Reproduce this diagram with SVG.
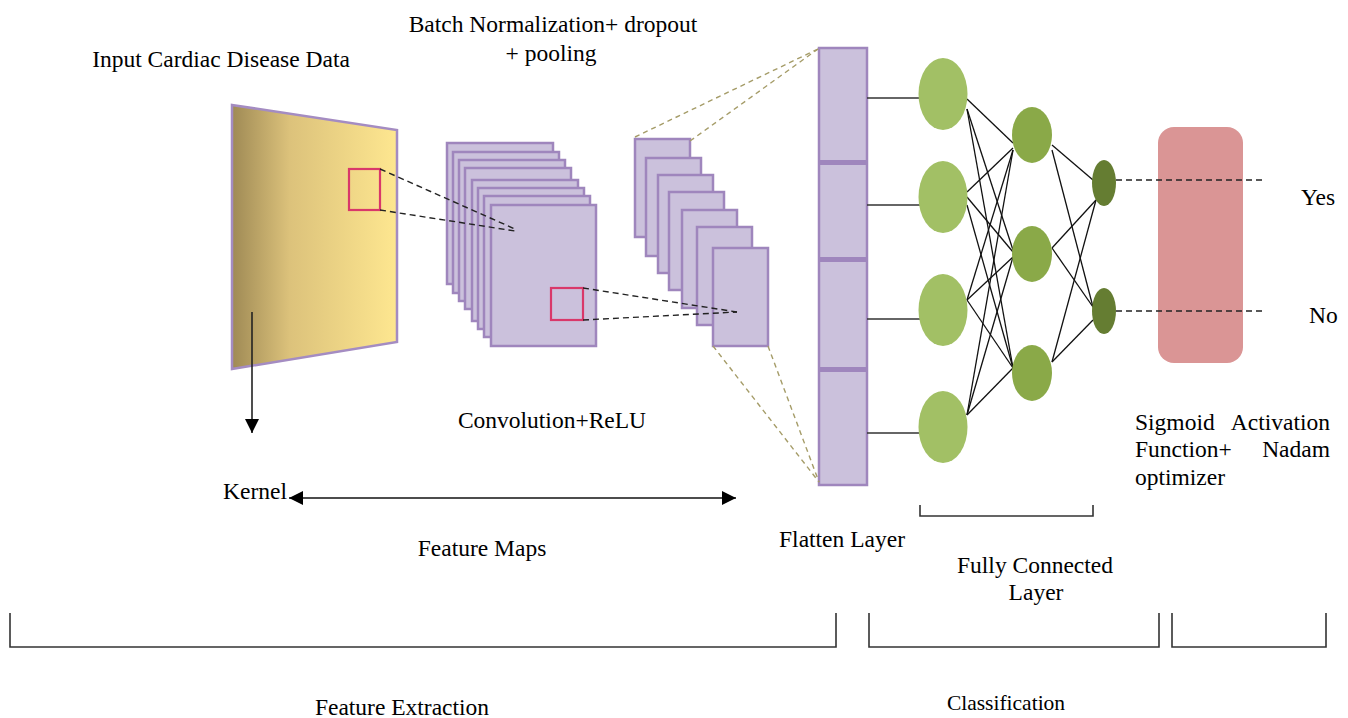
<svg xmlns="http://www.w3.org/2000/svg" width="1348" height="718" viewBox="0 0 1348 718">
<defs>
<linearGradient id="inGrad" x1="0" y1="0" x2="1" y2="0">
<stop offset="0" stop-color="#9f8a55"/>
<stop offset="0.35" stop-color="#dcc27b"/>
<stop offset="1" stop-color="#fee790"/>
</linearGradient>
<marker id="ah" viewBox="0 0 10 10" refX="10" refY="5" markerWidth="14" markerHeight="14" markerUnits="userSpaceOnUse" orient="auto-start-reverse">
<path d="M0,0 L10,5 L0,10 z" fill="#000"/>
</marker>
</defs>
<style>
text{font-family:"Liberation Serif","Times New Roman",serif;font-size:23.5px;fill:#000}
.fm{fill:#cbc1dc;stroke:#9f86bd;stroke-width:2.5}
.kb{fill:none;stroke:#d9386a;stroke-width:2.2}
.dk{stroke:#222;stroke-width:1.4;stroke-dasharray:6,4;fill:none}
.ol{stroke:#a59c68;stroke-width:1.4;stroke-dasharray:5,4;fill:none}
.cn{stroke:#111;stroke-width:1.3;fill:none}
.br{stroke:#333;stroke-width:1.6;fill:none}
.l1{fill:#a2c065}
.l2{fill:#8aa948}
.l3{fill:#657d32}
</style>

<g id="input">
<polygon points="232,105 397,130 397,342 232,369" fill="url(#inGrad)" stroke="#a48cc2" stroke-width="2.5"/>
<rect class="kb" x="349" y="169" width="31" height="41"/>
<text x="221" y="67" text-anchor="middle">Input Cardiac Disease Data</text>
</g>

<g id="conv">
<rect class="fm" x="447" y="143" width="106" height="141"/>
<rect class="fm" x="453" y="152" width="106" height="141"/>
<rect class="fm" x="459" y="160" width="106" height="141"/>
<rect class="fm" x="465" y="168" width="106" height="141"/>
<rect class="fm" x="472" y="180" width="106" height="141"/>
<rect class="fm" x="478" y="188" width="106" height="141"/>
<rect class="fm" x="484" y="196" width="106" height="141"/>
<rect class="fm" x="491" y="205" width="105" height="141"/>
<rect class="kb" x="551" y="288" width="32" height="32"/>
<text x="552" y="428" text-anchor="middle">Convolution+ReLU</text>
</g>

<g id="pool">
<rect class="fm" x="635" y="139" width="55" height="98"/>
<rect class="fm" x="646" y="158" width="55" height="98"/>
<rect class="fm" x="658" y="175" width="55" height="98"/>
<rect class="fm" x="669" y="192" width="55" height="98"/>
<rect class="fm" x="682" y="210" width="55" height="98"/>
<rect class="fm" x="697" y="227" width="55" height="98"/>
<rect class="fm" x="713" y="248" width="55" height="98"/>
<text x="553" y="32" text-anchor="middle">Batch Normalization+ dropout</text>
<text x="551" y="61" text-anchor="middle">+ pooling</text>
</g>

<g id="flatten">
<rect class="fm" x="819" y="48" width="48" height="437"/>
<rect x="820" y="160" width="46" height="5" fill="#9f86bd"/>
<rect x="820" y="257" width="46" height="5" fill="#9f86bd"/>
<rect x="820" y="367" width="46" height="5" fill="#9f86bd"/>
<text x="842" y="547" text-anchor="middle">Flatten Layer</text>
</g>

<g id="connectors">
<line class="dk" x1="380" y1="169" x2="515" y2="229"/>
<line class="dk" x1="380" y1="210" x2="515" y2="231"/>
<line class="dk" x1="583" y1="288" x2="737" y2="312"/>
<line class="dk" x1="583" y1="320" x2="737" y2="312"/>
<line class="ol" x1="635" y1="137" x2="818" y2="49"/>
<line class="ol" x1="690" y1="141" x2="818" y2="49"/>
<line class="ol" x1="713" y1="346" x2="819" y2="482"/>
<line class="ol" x1="768" y1="346" x2="819" y2="482"/>
<line x1="252" y1="312" x2="252" y2="433" stroke="#222" stroke-width="1.6" marker-end="url(#ah)"/>
<line x1="289" y1="498" x2="736" y2="498" stroke="#111" stroke-width="1.6" marker-start="url(#ah)" marker-end="url(#ah)"/>
<g stroke="#333" stroke-width="1.6">
<line x1="867" y1="98" x2="920" y2="98"/>
<line x1="867" y1="205" x2="920" y2="205"/>
<line x1="867" y1="319" x2="920" y2="319"/>
<line x1="867" y1="433" x2="920" y2="433"/>
</g>
<g class="cn">
<line x1="967" y1="99" x2="1013" y2="143"/>
<line x1="967" y1="109" x2="1013" y2="250"/>
<line x1="967" y1="109" x2="1013" y2="368"/>
<line x1="967" y1="192" x2="1013" y2="148"/>
<line x1="967" y1="197" x2="1013" y2="252"/>
<line x1="967" y1="205" x2="1013" y2="368"/>
<line x1="967" y1="300" x2="1013" y2="150"/>
<line x1="967" y1="300" x2="1013" y2="257"/>
<line x1="967" y1="300" x2="1013" y2="368"/>
<line x1="967" y1="415" x2="1013" y2="150"/>
<line x1="967" y1="415" x2="1013" y2="257"/>
<line x1="967" y1="415" x2="1013" y2="368"/>
<line x1="1052" y1="145" x2="1093" y2="180"/>
<line x1="1052" y1="150" x2="1093" y2="307"/>
<line x1="1052" y1="248" x2="1096" y2="200"/>
<line x1="1052" y1="248" x2="1093" y2="307"/>
<line x1="1052" y1="362" x2="1096" y2="200"/>
<line x1="1052" y1="362" x2="1093" y2="320"/>
</g>
</g>

<g id="layer1">
<ellipse class="l1" cx="943" cy="94" rx="24.5" ry="36"/>
<ellipse class="l1" cx="943" cy="197" rx="24.5" ry="36"/>
<ellipse class="l1" cx="943" cy="310" rx="24.5" ry="36"/>
<ellipse class="l1" cx="943" cy="427" rx="24.5" ry="36"/>
</g>
<g id="layer2">
<ellipse class="l2" cx="1032" cy="135" rx="20" ry="28"/>
<ellipse class="l2" cx="1032" cy="254" rx="20" ry="28"/>
<ellipse class="l2" cx="1032" cy="373" rx="20" ry="28"/>
</g>

<g id="output">
<rect x="1158" y="127" width="85" height="236" rx="16" fill="#da9595"/>
<line class="dk" x1="1116" y1="180" x2="1265" y2="180" stroke="#333"/>
<line class="dk" x1="1116" y1="311" x2="1265" y2="311" stroke="#333"/>
<ellipse class="l3" cx="1104" cy="183" rx="12" ry="23"/>
<ellipse class="l3" cx="1104" cy="311" rx="12" ry="23"/>
<text x="1301" y="205">Yes</text>
<text x="1309" y="323">No</text>
</g>

<g id="sigmoid">
<text x="1135" y="430">Sigmoid</text>
<text x="1330" y="430" text-anchor="end">Activation</text>
<text x="1135" y="457">Function+</text>
<text x="1330" y="457" text-anchor="end">Nadam</text>
<text x="1135" y="485">optimizer</text>
</g>

<g id="labels">
<text x="223" y="499">Kernel</text>
<text x="482" y="556" text-anchor="middle">Feature Maps</text>
<text x="1035" y="573" text-anchor="middle">Fully Connected</text>
<text x="1036" y="600" text-anchor="middle">Layer</text>
<text x="402" y="715" text-anchor="middle">Feature Extraction</text>
<text x="1006" y="710" text-anchor="middle" style="font-size:21.5px">Classification</text>
</g>

<g id="brackets" class="br">
<polyline class="br" points="920,505 920,516 1093,516 1093,505"/>
<polyline class="br" points="10,613 10,647 836,647 836,613"/>
<polyline class="br" points="869,613 869,647 1159,647 1159,613"/>
<polyline class="br" points="1172,613 1172,647 1326,647 1326,613"/>
</g>
</svg>
